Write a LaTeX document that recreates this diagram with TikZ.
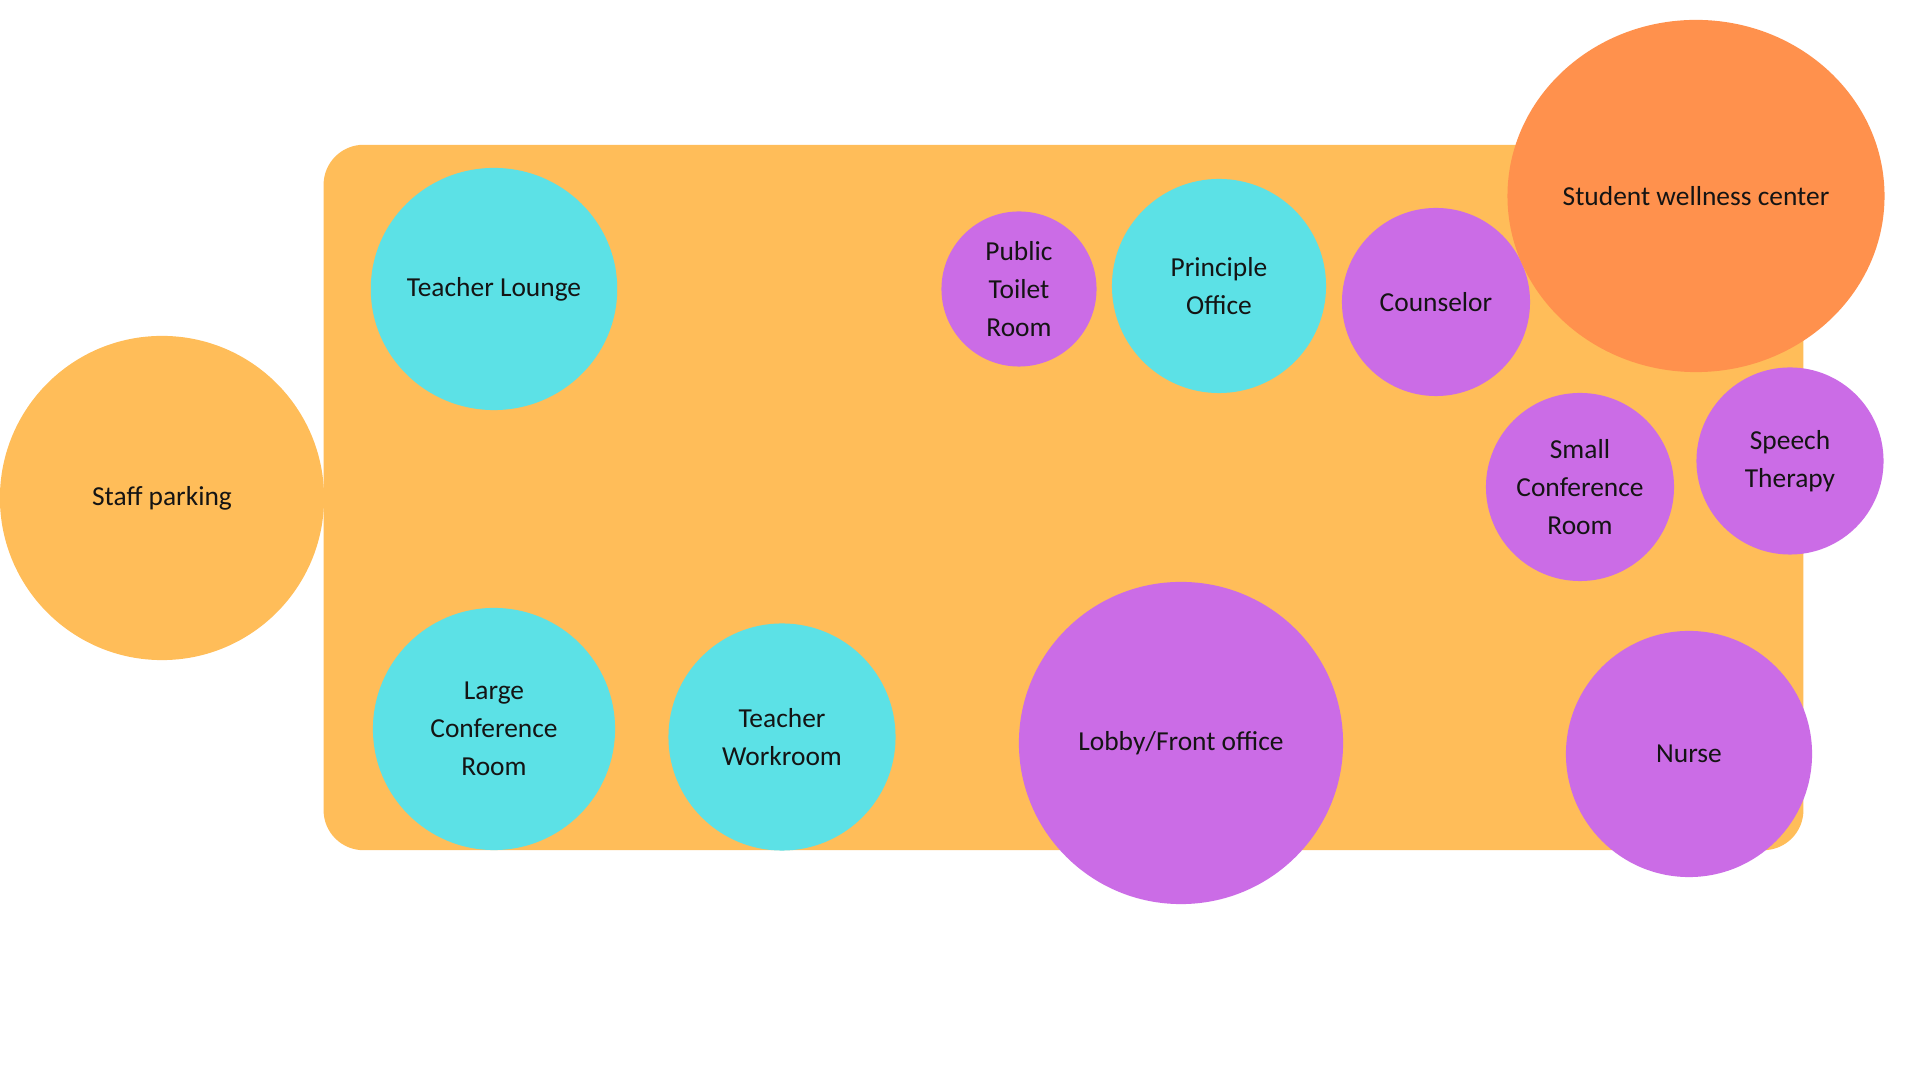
\documentclass[tikz,border=0pt]{standalone}
\usepackage{fontspec}
\setmainfont{Carlito}
\usepackage{xcolor}
\usepackage{tikz}
\usetikzlibrary{shapes.geometric}
\definecolor{WingOrange}{HTML}{FFBD59}
\definecolor{RoomCyan}{HTML}{5CE1E6}
\definecolor{RoomPurple}{HTML}{CB6CE6}
\definecolor{WellOrange}{HTML}{FF914D}
\definecolor{RoomText}{HTML}{141414}

\begin{document}
\begin{tikzpicture}[
  x=0.01cm, y=-0.01cm,
  room/.style={ellipse, inner sep=0pt, outer sep=0pt, align=center, text=RoomText,
               font=\fontsize{7.8pt}{10.8pt}\selectfont},
  dims/.style 2 args={minimum width=#1cm, minimum height=#2cm},
  wing/.style={rectangle, rounded corners=0.4cm, inner sep=0pt, outer sep=0pt, fill=WingOrange}
]
\useasboundingbox (0,0) rectangle (1920,1080);
\fill[white] (0,0) rectangle (1920,1080);
% building outline and parking
\node[room, fill=WingOrange, dims={3.24}{3.24}] (SP) at (162,498) {Staff parking};
\node[wing, dims={14.79}{7.05}] (W) at (1063.5,497.5) {};
% staff rooms
\node[room, fill=RoomCyan, dims={2.43}{2.42}] (TL) at (494,289) {Teacher Lounge};
\node[room, fill=RoomCyan, dims={2.42}{2.42}] (LC) at (494,729) {Large\\Conference\\Room};
\node[room, fill=RoomCyan, dims={2.27}{2.27}] (TW) at (782,737) {Teacher\\Workroom};
\node[room, fill=RoomCyan, dims={2.14}{2.14}] (PO) at (1219,286) {Principle\\Office};
% public and student rooms
\node[room, fill=RoomPurple, dims={1.55}{1.55}] (PT) at (1019,289) {Public\\Toilet\\Room};
\node[room, fill=RoomPurple, dims={1.88}{1.88}] (CO) at (1436,302) {Counselor};
\node[room, fill=WellOrange, dims={3.70}{3.52}] (SW) at (1696,196) {Student wellness center};
\node[room, fill=RoomPurple, dims={1.88}{1.88}] (SC) at (1580,487) {Small\\Conference\\Room};
\node[room, fill=RoomPurple, dims={1.87}{1.87}] (ST) at (1790,461) {Speech\\Therapy};
\node[room, fill=RoomPurple, dims={3.24}{3.22}] (LF) at (1181,743) {Lobby/Front office};
\node[room, fill=RoomPurple, dims={2.46}{2.46}] (NU) at (1689,754) {Nurse};
\end{tikzpicture}
\end{document}
